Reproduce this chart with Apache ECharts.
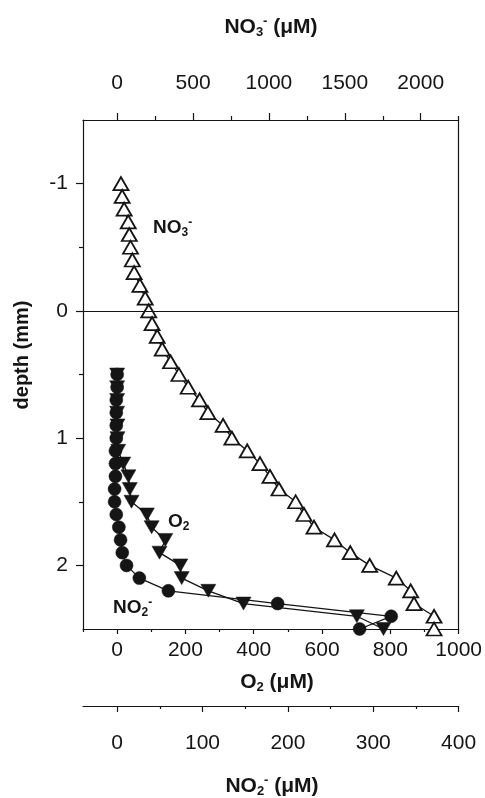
<!DOCTYPE html>
<html>
<head>
<meta charset="utf-8">
<script src="https://cdn.jsdelivr.net/npm/echarts@6/dist/echarts.min.js"></script>
<style>html,body{margin:0;padding:0;background:#fff}#c{width:485px;height:798px}</style>
</head>
<body>
<div id="c"></div>
<script>
// NO3- profile (depth in mm, concentration in µM)
const depthNO3 = [-1.0,-0.9,-0.8,-0.7,-0.6,-0.5,-0.4,-0.3,-0.2,-0.1,0.0,0.1,0.2,0.3,0.4,0.5,0.6,0.7,0.8,0.9,1.0,1.1,1.2,1.3,1.4,1.5,1.6,1.7,1.8,1.9,2.0,2.1,2.2,2.3,2.4,2.5];
const no3 = [25,33,46,73,80,88,100,112,150,185,208,230,264,297,352,407,468,543,598,698,756,857,941,1007,1066,1176,1231,1297,1432,1536,1664,1839,1934,1956,2088,2088];
// O2 profile
const depthO2 = [0.5,0.6,0.7,0.8,0.9,1.0,1.1,1.2,1.3,1.4,1.5,1.6,1.7,1.8,1.9,2.0,2.1,2.2,2.3,2.4,2.5];
const o2 = [0,0,0,0,1,1,3,18,33,37,42,87,101,141,124,185,189,267,370,702,780];
// NO2- profile
const depthNO2 = [0.5,0.6,0.7,0.8,0.9,1.0,1.1,1.2,1.3,1.4,1.5,1.6,1.7,1.8,1.9,2.0,2.1,2.2,2.3,2.4,2.5];
const no2 = [0,0,-1,-1,-1,-1,-2,-2,-2,-3,-3,-1,2,4,6,11,26,60,188,321,284];
// axis ticks
const o2Major = [0,200,400,600,800,1000];
const o2Minor = [-100,100,300,500,700,900];
const no3Major = [0,500,1000,1500,2000];
const no3Minor = [250,750,1250,1750,2250];
const no2Major = [0,100,200,300,400];
const no2Minor = [50,150,250,350];
const depthMajor = [-1,0,1,2];
const depthMinor = [-0.5,0.5,1.5];

const FONT = '"Liberation Sans", Arial, Helvetica, sans-serif';
const INK = '#151515';
const plain = v => String(v);

function xAx(o){
  return Object.assign({
    type:'value', gridIndex:0, splitLine:{show:false},
    axisLine:{show:true, onZero:false, lineStyle:{color:INK, width:1.2}},
    axisTick:{show:true, inside:false, lineStyle:{color:INK, width:1.2}},
    axisLabel:{show:true, color:INK, fontSize:21, fontFamily:FONT, formatter:plain}
  }, o);
}
function lab(vals, margin){
  return {show:true, customValues:vals, margin:margin, color:INK, fontSize:21, fontFamily:FONT, formatter:plain};
}

const chart = echarts.init(document.getElementById('c'), null, {renderer:'canvas'});
const option = {
  animation:false,
  backgroundColor:'#fff',
  grid:{left:83, right:25, top:120, bottom:169, containLabel:false},
  xAxis:[
    xAx({position:'bottom', min:-100, max:1000,
      axisTick:{show:true, length:5, customValues:o2Major, lineStyle:{color:INK,width:1.2}},
      axisLabel:lab(o2Major, 11)}),
    xAx({position:'bottom', min:-100, max:1000, axisLine:{show:false,onZero:false},
      axisTick:{show:true, length:3, customValues:o2Minor, lineStyle:{color:INK,width:1.2}},
      axisLabel:{show:false}}),
    xAx({position:'top', min:-225, max:2250,
      axisTick:{show:true, length:7, customValues:no3Major, lineStyle:{color:INK,width:1.2}},
      axisLabel:lab(no3Major, 26)}),
    xAx({position:'top', min:-225, max:2250, axisLine:{show:false,onZero:false},
      axisTick:{show:true, length:4, customValues:no3Minor, lineStyle:{color:INK,width:1.2}},
      axisLabel:{show:false}}),
    xAx({position:'bottom', offset:77, min:-40, max:400,
      axisTick:{show:true, length:6, customValues:no2Major, lineStyle:{color:INK,width:1.2}},
      axisLabel:lab(no2Major, 27)}),
    xAx({position:'bottom', offset:77, min:-40, max:400, axisLine:{show:false,onZero:false},
      axisTick:{show:true, length:3, customValues:no2Minor, lineStyle:{color:INK,width:1.2}},
      axisLabel:{show:false}})
  ],
  yAxis:[
    {type:'value', position:'left', min:-1.5, max:2.5, inverse:true, splitLine:{show:false},
      axisLine:{show:true, onZero:false, lineStyle:{color:INK,width:1.2}},
      axisTick:{show:true, length:7, customValues:depthMajor, lineStyle:{color:INK,width:1.2}},
      axisLabel:lab(depthMajor, 15)},
    {type:'value', position:'left', min:-1.5, max:2.5, inverse:true, splitLine:{show:false},
      axisLine:{show:false, onZero:false},
      axisTick:{show:true, length:4, customValues:depthMinor, lineStyle:{color:INK,width:1.2}},
      axisLabel:{show:false}},
    {type:'value', position:'right', min:-1.5, max:2.5, inverse:true, splitLine:{show:false},
      axisLine:{show:true, onZero:false, lineStyle:{color:INK,width:1.2}},
      axisTick:{show:false}, axisLabel:{show:false}}
  ],
  series:[
    {name:'NO3', type:'line', xAxisIndex:2, yAxisIndex:0,
      data: no3.map((v,i)=>[v, depthNO3[i]]),
      symbol:'triangle', symbolSize:[15,13],
      itemStyle:{color:'#fff', borderColor:INK, borderWidth:1.8},
      lineStyle:{color:INK, width:1.3}, z:3,
      markLine:{silent:true, symbol:'none', label:{show:false},
        lineStyle:{color:INK, type:'solid', width:1.2},
        data:[{yAxis:0}]}},
    {name:'O2', type:'line', xAxisIndex:0, yAxisIndex:0,
      data: o2.map((v,i)=>[v, depthO2[i]]),
      symbol:'triangle', symbolRotate:180, symbolSize:[15,13],
      itemStyle:{color:INK, borderColor:INK, borderWidth:0.5},
      lineStyle:{color:INK, width:1.3}, z:4},
    {name:'NO2', type:'line', xAxisIndex:4, yAxisIndex:0,
      data: no2.map((v,i)=>[v, depthNO2[i]]),
      symbol:'circle', symbolSize:13,
      itemStyle:{color:INK, borderColor:INK, borderWidth:0.5},
      lineStyle:{color:INK, width:1.3}, z:4}
  ],
  graphic:[
    {type:'text', x:271, y:27, style:{text:'{b|NO}{sub|3}{sup|-}{b| (μM)}', align:'center', verticalAlign:'middle',
      rich:{b:{fontSize:21, fontWeight:'bold', fontFamily:FONT, fill:INK, lineHeight:24},
        sub:{fontSize:13, fontWeight:'bold', fontFamily:FONT, fill:INK, lineHeight:13, verticalAlign:'bottom'},
        sup:{fontSize:13, fontWeight:'bold', fontFamily:FONT, fill:INK, lineHeight:13, verticalAlign:'top'}}}},
    {type:'text', x:277, y:682, style:{text:'{b|O}{sub|2}{b| (μM)}', align:'center', verticalAlign:'middle',
      rich:{b:{fontSize:21, fontWeight:'bold', fontFamily:FONT, fill:INK, lineHeight:24},
        sub:{fontSize:13, fontWeight:'bold', fontFamily:FONT, fill:INK, lineHeight:13, verticalAlign:'bottom'}}}},
    {type:'text', x:272, y:786, style:{text:'{b|NO}{sub|2}{sup|-}{b| (μM)}', align:'center', verticalAlign:'middle',
      rich:{b:{fontSize:21, fontWeight:'bold', fontFamily:FONT, fill:INK, lineHeight:24},
        sub:{fontSize:13, fontWeight:'bold', fontFamily:FONT, fill:INK, lineHeight:13, verticalAlign:'bottom'},
        sup:{fontSize:13, fontWeight:'bold', fontFamily:FONT, fill:INK, lineHeight:13, verticalAlign:'top'}}}},
    {type:'text', x:22, y:355, rotation:Math.PI/2, style:{text:'depth (mm)', align:'center', verticalAlign:'middle',
      fontSize:20, fontWeight:'bold', fontFamily:FONT, fill:INK}},
    {type:'text', x:153, y:228, style:{text:'{b|NO}{sub|3}{sup|-}', align:'left', verticalAlign:'middle',
      rich:{b:{fontSize:19, fontWeight:'bold', fontFamily:FONT, fill:INK, lineHeight:22},
        sub:{fontSize:12, fontWeight:'bold', fontFamily:FONT, fill:INK, lineHeight:12, verticalAlign:'bottom'},
        sup:{fontSize:12, fontWeight:'bold', fontFamily:FONT, fill:INK, lineHeight:12, verticalAlign:'top'}}}},
    {type:'text', x:168, y:522, style:{text:'{b|O}{sub|2}', align:'left', verticalAlign:'middle',
      rich:{b:{fontSize:19, fontWeight:'bold', fontFamily:FONT, fill:INK, lineHeight:22},
        sub:{fontSize:12, fontWeight:'bold', fontFamily:FONT, fill:INK, lineHeight:12, verticalAlign:'bottom'}}}},
    {type:'text', x:113, y:608, style:{text:'{b|NO}{sub|2}{sup|-}', align:'left', verticalAlign:'middle',
      rich:{b:{fontSize:19, fontWeight:'bold', fontFamily:FONT, fill:INK, lineHeight:22},
        sub:{fontSize:12, fontWeight:'bold', fontFamily:FONT, fill:INK, lineHeight:12, verticalAlign:'bottom'},
        sup:{fontSize:12, fontWeight:'bold', fontFamily:FONT, fill:INK, lineHeight:12, verticalAlign:'top'}}}}
  ]
};
chart.setOption(option);
</script>
</body>
</html>
